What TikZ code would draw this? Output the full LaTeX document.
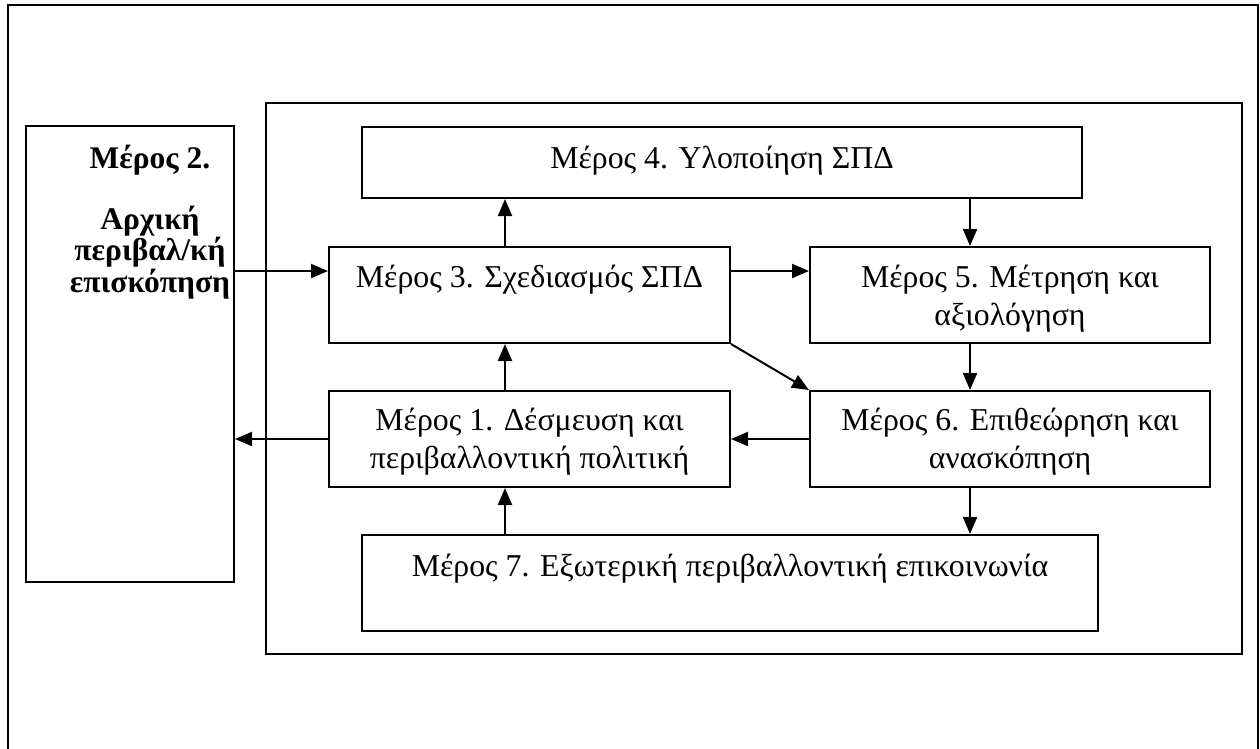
\documentclass[tikz,border=0pt]{standalone}
\usepackage{fontspec}
\setmainfont{Liberation Serif}
\usetikzlibrary{arrows.meta}
\begin{document}
\begin{tikzpicture}[x=1pt,y=-1pt,
  box/.style={draw, line width=2pt, rectangle, inner sep=0pt},
  txt/.style={anchor=base, align=center, font=\fontsize{31.8}{38.5}\selectfont, inner sep=0pt},
  btxt/.style={anchor=base, align=center, font=\fontsize{31.5}{30}\selectfont\bfseries, inner sep=0pt},
  conn/.style={line width=2pt, -{Triangle[length=17pt,width=14pt]}},
]
\useasboundingbox (0,0) rectangle (1260,748);
% outer frame (cropped at the bottom)
\draw[line width=1.6pt] (8,770) -- (8,5) -- (1258,5) -- (1258,770);
% inner frame
\node[box, minimum width=976pt, minimum height=551pt] (frame) at (754,378.5) {};
% boxes
\node[box, minimum width=208pt, minimum height=456pt] (m2) at (130,354) {};
\node[box, minimum width=720pt, minimum height=71pt] (m4) at (722,162.5) {};
\node[box, minimum width=401pt, minimum height=96pt] (m3) at (529.5,295) {};
\node[box, minimum width=400pt, minimum height=96pt] (m5) at (1010,295) {};
\node[box, minimum width=401pt, minimum height=96pt] (m1) at (529.5,439) {};
\node[box, minimum width=400pt, minimum height=96pt] (m6) at (1010,439) {};
\node[box, minimum width=736pt, minimum height=96pt] (m7) at (730,583) {};
% texts (base anchor = baseline of the last line)
\node[btxt] (t2) at (150,292) {Μέρος 2.\\[30pt]Αρχική\\περιβαλ/κή\\επισκόπηση};
\node[txt] (t4) at (722,168) {Μέρος 4. Υλοποίηση ΣΠΔ};
\node[txt] (t3) at (529.5,287) {Μέρος 3. Σχεδιασμός ΣΠΔ};
\node[txt] (t5) at (1010,325.5) {Μέρος 5. Μέτρηση και\\αξιολόγηση};
\node[txt] (t1) at (529.5,468.5) {Μέρος 1. Δέσμευση και\\περιβαλλοντική πολιτική};
\node[txt] (t6) at (1010,468.5) {Μέρος 6. Επιθεώρηση και\\ανασκόπηση};
\node[txt] (t7) at (730,576) {Μέρος 7. Εξωτερική περιβαλλοντική επικοινωνία};
% helper coordinates
\coordinate (xa) at (505,0);
\coordinate (xb) at (970,0);
\coordinate (ya) at (0,271);
% connectors
\draw[conn] (m2.east |- ya) -- (m3.west |- ya);
\draw[conn] (m3.east |- ya) -- (m5.west |- ya);
\draw[conn] (m3.north -| xa) -- (m4.south -| xa);
\draw[conn] (m1.north -| xa) -- (m3.south -| xa);
\draw[conn] (m7.north -| xa) -- (m1.south -| xa);
\draw[conn] (m4.south -| xb) -- (m5.north -| xb);
\draw[conn] (m5.south -| xb) -- (m6.north -| xb);
\draw[conn] (m6.south -| xb) -- (m7.north -| xb);
\draw[conn] (m6.west) -- (m1.east);
\draw[conn] (m1.west) -- (m2.east |- m1.west);
\draw[conn] (m3.south east) -- (m6.north west);
\end{tikzpicture}
\end{document}
